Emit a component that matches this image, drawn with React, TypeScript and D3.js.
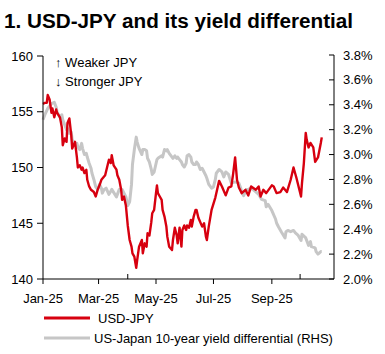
import React from "react";
import * as d3 from "d3";

// USD-JPY (LHS)
const usdJpyDates = [
  "2025-01-01", "2025-01-03", "2025-01-05", "2025-01-06", "2025-01-08", "2025-01-10", "2025-01-11",
  "2025-01-13", "2025-01-15", "2025-01-16", "2025-01-19", "2025-01-21", "2025-01-22", "2025-01-24",
  "2025-01-26", "2025-01-27", "2025-01-29", "2025-01-31", "2025-02-01", "2025-02-04", "2025-02-06",
  "2025-02-07", "2025-02-09", "2025-02-11", "2025-02-12", "2025-02-14", "2025-02-16", "2025-02-17",
  "2025-02-19", "2025-02-21", "2025-02-24", "2025-02-26", "2025-02-28", "2025-03-02", "2025-03-04",
  "2025-03-06", "2025-03-08", "2025-03-10", "2025-03-12", "2025-03-14", "2025-03-15", "2025-03-17",
  "2025-03-20", "2025-03-21", "2025-03-23", "2025-03-25", "2025-03-26", "2025-03-28", "2025-03-30",
  "2025-04-01", "2025-04-03", "2025-04-05", "2025-04-06", "2025-04-08", "2025-04-10", "2025-04-11",
  "2025-04-13", "2025-04-16", "2025-04-17", "2025-04-19", "2025-04-21", "2025-04-22", "2025-04-24",
  "2025-04-26", "2025-04-27", "2025-04-29", "2025-05-01", "2025-05-02", "2025-05-03", "2025-05-05",
  "2025-05-07", "2025-05-08", "2025-05-10", "2025-05-12", "2025-05-13", "2025-05-15", "2025-05-18",
  "2025-05-19", "2025-05-21", "2025-05-23", "2025-05-24", "2025-05-26", "2025-05-28", "2025-05-29",
  "2025-05-31", "2025-06-02", "2025-06-03", "2025-06-05", "2025-06-07", "2025-06-08", "2025-06-10",
  "2025-06-12", "2025-06-13", "2025-06-15", "2025-06-19", "2025-06-21", "2025-06-23", "2025-06-24",
  "2025-06-26", "2025-06-29", "2025-07-03", "2025-07-07", "2025-07-10", "2025-07-14", "2025-07-17",
  "2025-07-20", "2025-07-22", "2025-07-24", "2025-07-26", "2025-07-28", "2025-07-31", "2025-08-04",
  "2025-08-07", "2025-08-10", "2025-08-15", "2025-08-18", "2025-08-20", "2025-08-23", "2025-08-26",
  "2025-09-01", "2025-09-03", "2025-09-06", "2025-09-10", "2025-09-13", "2025-09-17", "2025-09-21",
  "2025-09-24", "2025-09-27", "2025-10-02", "2025-10-03", "2025-10-05", "2025-10-07", "2025-10-08",
  "2025-10-10", "2025-10-12", "2025-10-15", "2025-10-17", "2025-10-20", "2025-10-23", "2025-10-24",
];
const usdJpyValues = [
  155.7, 155.8, 155.8, 156.5, 156.1, 154.9, 155.3,
  154.5, 155.2, 154.9, 154.5, 153.6, 152.0, 152.6,
  152.3, 154.0, 154.4, 152.9, 151.7, 152.3, 150.9,
  150.0, 150.2, 149.8, 150.0, 149.5, 149.8, 148.9,
  148.3, 148.0, 147.8, 147.4, 148.0, 148.4, 148.9,
  149.1, 149.3, 150.0, 150.7, 150.4, 151.1, 150.2,
  149.8, 149.3, 148.9, 148.0, 147.1, 147.4, 146.6,
  144.8, 143.5, 142.9, 142.3, 142.0, 141.0, 141.7,
  142.9, 143.5, 142.3, 143.2, 142.9, 144.1, 143.9,
  145.1, 145.9, 146.2, 147.7, 148.4, 147.7, 147.4,
  147.1, 146.2, 145.6, 144.7, 143.8, 142.9, 142.6,
  143.5, 144.6, 143.9, 143.2, 144.6, 142.9, 144.4,
  144.8, 144.4, 144.8, 144.6, 145.3, 144.7, 145.6,
  146.2, 146.2, 145.5, 144.7, 145.0, 143.8, 143.5,
  144.7, 146.2, 147.3, 148.8, 148.3, 147.5, 148.2,
  148.3, 149.5, 150.9, 148.9, 148.2, 147.7, 148.0,
  147.5, 148.3, 148.0, 148.3, 147.4, 148.0, 147.7,
  148.4, 148.3, 147.7, 147.8, 148.2, 147.8, 148.9,
  150.0, 149.1, 147.4, 148.6, 150.4, 153.1, 152.5,
  151.8, 152.2, 151.8, 150.5, 150.9, 152.2, 152.7,
];

// US-Japan 10-year yield differential, % (RHS)
const spreadDates = [
  "2025-01-01", "2025-01-03", "2025-01-06", "2025-01-10", "2025-01-13", "2025-01-15", "2025-01-16",
  "2025-01-19", "2025-01-21", "2025-01-22", "2025-01-24", "2025-01-26", "2025-01-27", "2025-01-29",
  "2025-01-31", "2025-02-01", "2025-02-04", "2025-02-06", "2025-02-07", "2025-02-09", "2025-02-11",
  "2025-02-12", "2025-02-14", "2025-02-16", "2025-02-17", "2025-02-19", "2025-02-21", "2025-02-22",
  "2025-02-24", "2025-02-26", "2025-02-28", "2025-03-02", "2025-03-04", "2025-03-05", "2025-03-07",
  "2025-03-09", "2025-03-12", "2025-03-15", "2025-03-20", "2025-03-23", "2025-03-26", "2025-03-30",
  "2025-04-01", "2025-04-03", "2025-04-05", "2025-04-06", "2025-04-08", "2025-04-10", "2025-04-11",
  "2025-04-13", "2025-04-16", "2025-04-17", "2025-04-19", "2025-04-21", "2025-04-22", "2025-04-24",
  "2025-04-26", "2025-04-27", "2025-04-29", "2025-05-02", "2025-05-03", "2025-05-05", "2025-05-07",
  "2025-05-08", "2025-05-10", "2025-05-12", "2025-05-13", "2025-05-15", "2025-05-18", "2025-05-19",
  "2025-05-21", "2025-05-23", "2025-05-24", "2025-05-26", "2025-05-28", "2025-05-29", "2025-05-31",
  "2025-06-02", "2025-06-03", "2025-06-05", "2025-06-07", "2025-06-08", "2025-06-10", "2025-06-12",
  "2025-06-13", "2025-06-15", "2025-06-17", "2025-06-19", "2025-06-21", "2025-06-23", "2025-06-24",
  "2025-06-26", "2025-06-28", "2025-06-29", "2025-07-01", "2025-07-03", "2025-07-04", "2025-07-07",
  "2025-07-10", "2025-07-12", "2025-07-14", "2025-07-17", "2025-07-20", "2025-07-24", "2025-07-28",
  "2025-07-30", "2025-07-31", "2025-08-02", "2025-08-04", "2025-08-05", "2025-08-07", "2025-08-10",
  "2025-08-15", "2025-08-18", "2025-08-21", "2025-08-25", "2025-08-26", "2025-08-28", "2025-09-01",
  "2025-09-05", "2025-09-06", "2025-09-08", "2025-09-11", "2025-09-15", "2025-09-16", "2025-09-18",
  "2025-09-21", "2025-09-24", "2025-09-26", "2025-09-29", "2025-10-02", "2025-10-03", "2025-10-07",
  "2025-10-10", "2025-10-12", "2025-10-13", "2025-10-17", "2025-10-18", "2025-10-20", "2025-10-23",
  "2025-10-24",
];
const spreadValues = [
  3.28, 3.32, 3.37, 3.41, 3.42, 3.38, 3.34,
  3.30, 3.32, 3.28, 3.24, 3.20, 3.21, 3.17,
  3.18, 3.12, 3.08, 3.09, 3.06, 3.04, 3.09,
  3.05, 3.00, 3.01, 2.98, 2.93, 2.89, 2.85,
  2.80, 2.74, 2.72, 2.76, 2.73, 2.69, 2.72,
  2.73, 2.68, 2.72, 2.66, 2.72, 2.72, 2.66,
  2.59, 2.62, 2.76, 2.92, 3.04, 3.14, 3.10,
  3.05, 3.00, 3.04, 3.04, 3.03, 2.97, 2.94,
  2.88, 2.84, 2.86, 2.96, 2.97, 2.98, 2.99,
  2.98, 3.04, 3.03, 3.04, 3.01, 2.98, 2.97,
  2.99, 2.97, 2.98, 2.96, 2.94, 2.92, 2.90,
  2.93, 2.99, 3.00, 2.98, 2.94, 2.92, 2.92,
  2.94, 2.92, 2.88, 2.89, 2.86, 2.83, 2.81,
  2.76, 2.74, 2.73, 2.74, 2.80, 2.85, 2.88,
  2.86, 2.82, 2.86, 2.84, 2.77, 2.78, 2.77,
  2.73, 2.70, 2.67, 2.70, 2.72, 2.72, 2.73,
  2.70, 2.68, 2.64, 2.63, 2.58, 2.60, 2.55,
  2.48, 2.45, 2.42, 2.38, 2.33, 2.38, 2.39,
  2.38, 2.39, 2.37, 2.35, 2.31, 2.36, 2.33,
  2.27, 2.30, 2.26, 2.25, 2.22, 2.20, 2.22,
  2.22,
];

const leftTicks = [140, 145, 150, 155, 160];
const rightTicks = [2.0, 2.2, 2.4, 2.6, 2.8, 3.0, 3.2, 3.4, 3.6, 3.8];
const labelMonths = ["2025-01-01", "2025-03-01", "2025-05-01", "2025-07-01", "2025-09-01"];
const minorMonths = ["2025-04-01", "2025-10-01"];

const title = "1. USD-JPY and its yield differential";
const legendLabels = ["USD-JPY", "US-Japan 10-year yield differential (RHS)"];

const RED = "#d7000f";
const GREY = "#c6c6c6";
const FONT = "Arial, 'Liberation Sans', sans-serif";

const parse = d3.timeParse("%Y-%m-%d");

const App = () => {
  const width = 385;
  const height = 354;
  const margin = { top: 56, right: 51, bottom: 75, left: 43 };
  const innerW = width - margin.left - margin.right;
  const innerH = height - margin.top - margin.bottom;

  const x = d3
    .scaleTime()
    .domain([parse("2025-01-01"), parse("2025-11-06")])
    .range([margin.left, margin.left + innerW]);
  const yL = d3
    .scaleLinear()
    .domain([140, 160])
    .range([margin.top + innerH, margin.top]);
  const yR = d3
    .scaleLinear()
    .domain([2.0, 3.8])
    .range([margin.top + innerH, margin.top - 1]);

  const redPts = usdJpyDates.map((d, i) => [parse(d), usdJpyValues[i]]);
  const greyPts = spreadDates.map((d, i) => [parse(d), spreadValues[i]]);

  const redLine = d3
    .line()
    .x((d) => x(d[0]))
    .y((d) => yL(d[1]));
  const greyLine = d3
    .line()
    .x((d) => x(d[0]))
    .y((d) => yR(d[1]));

  const x0 = margin.left;
  const x1 = margin.left + innerW;
  const yb = margin.top + innerH;
  const fmtMonth = d3.timeFormat("%b-%y");

  return (
    <svg
      width={width}
      height={height}
      style={{ position: "absolute", left: 0, top: 0, background: "#fff" }}
      fontFamily={FONT}
    >
      <text x={4} y={28} fontSize={20.7} fontWeight="bold" fill="#000">
        {title}
      </text>

      <text x={55} y={67} fontSize={13} fill="#000">
        {"↑ Weaker JPY"}
      </text>
      <text x={55} y={86} fontSize={13} fill="#000">
        {"↓ Stronger JPY"}
      </text>

      <path d={greyLine(greyPts)} fill="none" stroke={GREY} strokeWidth={3} strokeLinejoin="round" />
      <path d={redLine(redPts)} fill="none" stroke={RED} strokeWidth={2.4} strokeLinejoin="round" />

      {/* left axis */}
      <line x1={x0} x2={x0} y1={yL(160)} y2={yb} stroke="#000" />
      {leftTicks.map((t) => (
        <g key={t}>
          <line x1={x0 - 6} x2={x0} y1={yL(t)} y2={yL(t)} stroke="#000" />
          <text x={x0 - 10} y={yL(t)} dy="0.35em" textAnchor="end" fontSize={13} fill="#000">
            {t}
          </text>
        </g>
      ))}

      {/* right axis */}
      <line x1={x1} x2={x1} y1={yR(3.8)} y2={yb} stroke="#000" />
      {rightTicks.map((t) => (
        <g key={t}>
          <line x1={x1 - 5} x2={x1} y1={yR(t)} y2={yR(t)} stroke="#000" />
          <text x={x1 + 9} y={yR(t)} dy="0.35em" fontSize={13} fill="#000">
            {t.toFixed(1) + "%"}
          </text>
        </g>
      ))}

      {/* bottom axis */}
      <line x1={x0} x2={x1} y1={yb} y2={yb} stroke="#000" />
      {labelMonths.map((m) => (
        <g key={m}>
          <line x1={x(parse(m))} x2={x(parse(m))} y1={yb} y2={yb + 5} stroke="#000" />
          <text x={x(parse(m))} y={yb + 24} textAnchor="middle" fontSize={13} fill="#000">
            {fmtMonth(parse(m))}
          </text>
        </g>
      ))}
      {minorMonths.map((m) => (
        <line key={m} x1={x(parse(m))} x2={x(parse(m))} y1={yb - 5} y2={yb} stroke="#000" />
      ))}

      {/* legend */}
      <line x1={44} x2={90} y1={318} y2={318} stroke={RED} strokeWidth={3} />
      <text x={98} y={323} fontSize={13} fill="#000">
        {legendLabels[0]}
      </text>
      <line x1={44} x2={90} y1={338} y2={338} stroke={GREY} strokeWidth={3} />
      <text x={94} y={343} fontSize={13} fill="#000">
        {legendLabels[1]}
      </text>
    </svg>
  );
};

export default App;
